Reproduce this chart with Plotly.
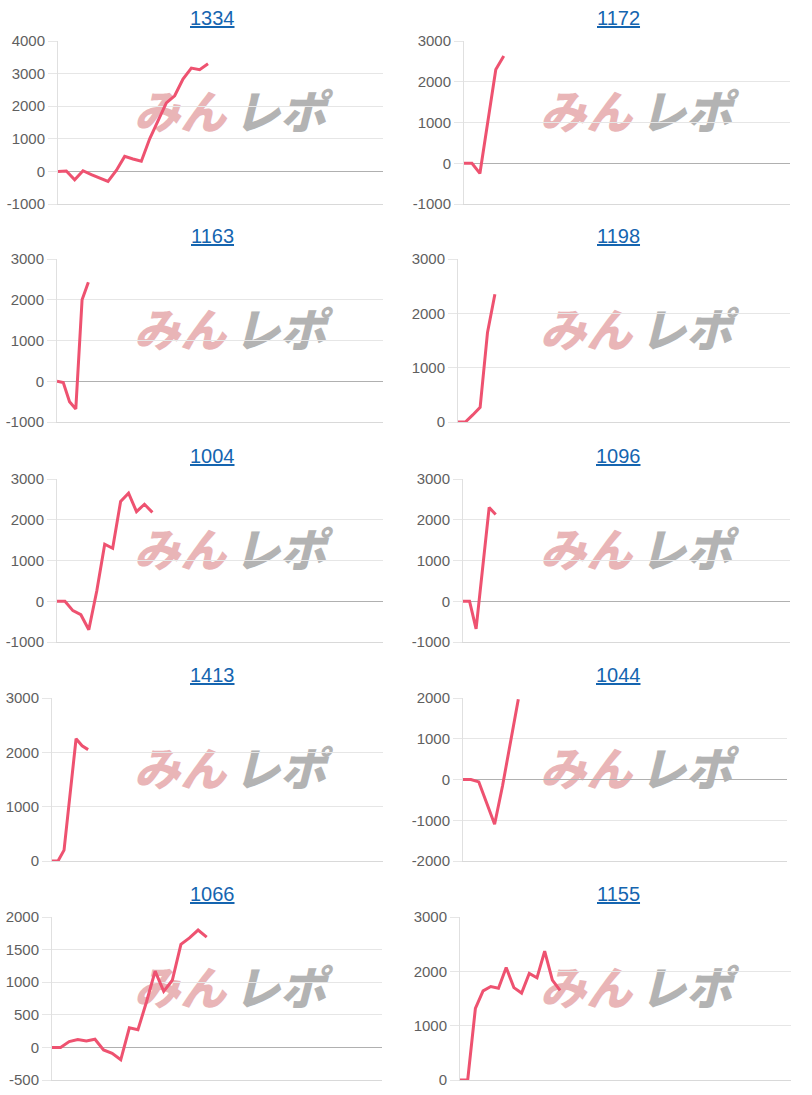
import plotly.graph_objects as go

# ---------------- data ----------------
machine_ids = ["1334", "1172", "1163", "1198", "1004", "1096", "1413", "1044", "1066", "1155"]

s1334 = [0, 10, -260, 20, -100, -200, -310, 30, 460, 380, 310, 1000, 1550, 2100, 2320, 2830, 3170, 3120, 3300]
s1172 = [0, 0, -250, 1000, 2300, 2630]
s1163 = [0, -30, -500, -680, 2000, 2430]
s1198 = [0, 0, 130, 270, 1650, 2350]
s1004 = [0, 0, -230, -330, -700, 250, 1400, 1300, 2450, 2650, 2200, 2380, 2180]
s1096 = [0, 0, -680, 800, 2300, 2130]
s1413 = [0, 0, 200, 1200, 2250, 2120, 2050]
s1044 = [0, 0, -60, -580, -1100, -160, 900, 1970]
s1066 = [0, 0, 90, 120, 100, 125, -40, -90, -190, 300, 270, 700, 1170, 860, 1030, 1580, 1680, 1800, 1690]
s1155 = [0, 0, 1320, 1640, 1720, 1690, 2070, 1700, 1600, 1960, 1880, 2370, 1840, 1650]

series = [s1334, s1172, s1163, s1198, s1004, s1096, s1413, s1044, s1066, s1155]

y_ranges = [(-1000, 4000), (-1000, 3000), (-1000, 3000), (0, 3000), (-1000, 3000),
            (-1000, 3000), (0, 3000), (-2000, 2000), (-500, 2000), (0, 3000)]
y_steps = [1000, 1000, 1000, 1000, 1000, 1000, 1000, 1000, 500, 1000]

# ---------------- layout (pixels) ----------------
W, H = 812, 1095
plot_left = [58, 464, 57, 458, 57, 463, 52, 463, 52, 460]
plot_right = [383, 790, 383, 790, 383, 790, 383, 787, 382, 791]
title_y = [18, 236, 456, 675, 894]
plot_h = 163
x_span = [39, 41, 52, 45, 41, 50, 55, 41, 38.4, 43]
col_off = [0, 406]

LINE = "rgb(238,82,112)"
GRID = "#e6e6e6"
ZERO = "#b0b0b0"
TICKC = "#5f5f5f"
FONT = "Liberation Sans, Arial, sans-serif"

fig = go.Figure()
annotations = []
shapes = []

for i, (mid, vals) in enumerate(zip(machine_ids, series)):
    r, c = divmod(i, 2)
    sfx = "" if i == 0 else str(i + 1)
    top = title_y[r] + 23
    lo, hi = y_ranges[i]
    tvals = list(range(lo, hi + 1, y_steps[i]))
    fig.add_trace(go.Scatter(
        x=list(range(len(vals))), y=vals, mode="lines",
        line=dict(color=LINE, width=3),
        xaxis="x" + sfx, yaxis="y" + sfx,
        showlegend=False, hoverinfo="skip",
    ))
    fig.layout["xaxis" + sfx] = dict(
        domain=[plot_left[i] / W, plot_right[i] / W], anchor="y" + sfx,
        range=[0, x_span[i]], showgrid=False, zeroline=False,
        showticklabels=False, ticks="", showline=True, linecolor="#d9d9d9",
        linewidth=1, fixedrange=True, automargin=False,
    )
    fig.layout["yaxis" + sfx] = dict(
        domain=[1 - (top + plot_h) / H, 1 - top / H], anchor="x" + sfx,
        range=[lo, hi], tickmode="array", tickvals=tvals,
        ticktext=[str(v) for v in tvals],
        showgrid=True, gridcolor=GRID, gridwidth=1,
        zeroline=True, zerolinecolor=ZERO, zerolinewidth=1,
        showline=True, linecolor="#e0e0e0", linewidth=1,
        ticks="outside", ticklen=9, tickcolor=GRID, tickwidth=1,
        tickfont=dict(family=FONT, size=15, color=TICKC),
        fixedrange=True, automargin=False,
    )
    # title (link style)
    annotations.append(dict(
        text="<u>" + mid + "</u>", x=(col_off[c] + 212) / W, y=1 - title_y[r] / H,
        xref="paper", yref="paper", xanchor="center", yanchor="middle",
        showarrow=False, font=dict(family=FONT, size=20, color="#1565b0"),
    ))
    # watermark logo
    wy = title_y[r] + 98
    for txt, cx, col in (("みん", 180, "#e9b5b7"), ("レポ", 280, "#b3b3b3")):
        x0 = (col_off[c] + cx - 55) / W
        x1 = (col_off[c] + cx + 55) / W
        shapes.append(dict(
            type="rect", xref="paper", yref="paper", layer="below",
            x0=x0, x1=x1, y0=1 - (wy + 25) / H, y1=1 - (wy - 25) / H,
            line=dict(width=0), fillcolor="rgba(0,0,0,0)",
            label=dict(text=txt, textposition="middle center",
                       font=dict(family="Noto Sans CJK JP", size=46, color=col,
                                 weight=900, style="italic")),
        ))

fig.update_layout(
    width=W, height=H, margin=dict(l=0, r=0, t=0, b=0, pad=0, autoexpand=False),
    paper_bgcolor="white", plot_bgcolor="rgba(0,0,0,0)",
    annotations=annotations, shapes=shapes, showlegend=False,
)

fig.write_html("out.html", config={"displayModeBar": False},
               post_script="document.body.style.margin='0';")
